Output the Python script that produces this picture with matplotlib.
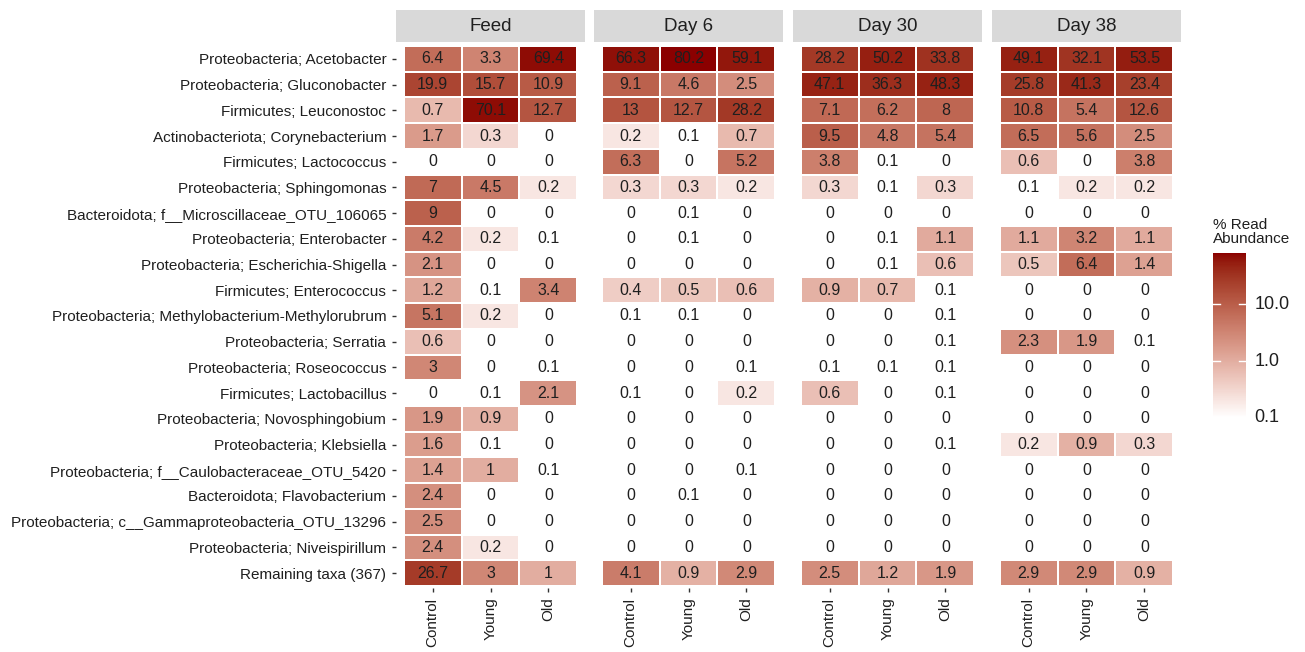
import numpy as np
import matplotlib
matplotlib.use("Agg")
from matplotlib import pyplot as plt
from matplotlib.colors import ListedColormap, LogNorm

plt.rcParams['font.family'] = ['Liberation Sans', 'DejaVu Sans']

taxa = [
    "Proteobacteria; Acetobacter",
    "Proteobacteria; Gluconobacter",
    "Firmicutes; Leuconostoc",
    "Actinobacteriota; Corynebacterium",
    "Firmicutes; Lactococcus",
    "Proteobacteria; Sphingomonas",
    "Bacteroidota; f__Microscillaceae_OTU_106065",
    "Proteobacteria; Enterobacter",
    "Proteobacteria; Escherichia-Shigella",
    "Firmicutes; Enterococcus",
    "Proteobacteria; Methylobacterium-Methylorubrum",
    "Proteobacteria; Serratia",
    "Proteobacteria; Roseococcus",
    "Firmicutes; Lactobacillus",
    "Proteobacteria; Novosphingobium",
    "Proteobacteria; Klebsiella",
    "Proteobacteria; f__Caulobacteraceae_OTU_5420",
    "Bacteroidota; Flavobacterium",
    "Proteobacteria; c__Gammaproteobacteria_OTU_13296",
    "Proteobacteria; Niveispirillum",
    "Remaining taxa (367)",
]
timepoints = ["Feed", "Day 6", "Day 30", "Day 38"]
groups = ["Control", "Young", "Old"]

# % read abundance, one list per timepoint, rows follow `taxa`, columns follow `groups`
feed = [
    [6.4, 3.3, 69.4], [19.9, 15.7, 10.9], [0.7, 70.1, 12.7], [1.7, 0.3, 0],
    [0, 0, 0], [7, 4.5, 0.2], [9, 0, 0], [4.2, 0.2, 0.1], [2.1, 0, 0],
    [1.2, 0.1, 3.4], [5.1, 0.2, 0], [0.6, 0, 0], [3, 0, 0.1], [0, 0.1, 2.1],
    [1.9, 0.9, 0], [1.6, 0.1, 0], [1.4, 1, 0.1], [2.4, 0, 0], [2.5, 0, 0],
    [2.4, 0.2, 0], [26.7, 3, 1],
]
day6 = [
    [66.3, 80.2, 59.1], [9.1, 4.6, 2.5], [13, 12.7, 28.2], [0.2, 0.1, 0.7],
    [6.3, 0, 5.2], [0.3, 0.3, 0.2], [0, 0.1, 0], [0, 0.1, 0], [0, 0, 0],
    [0.4, 0.5, 0.6], [0.1, 0.1, 0], [0, 0, 0], [0, 0, 0.1], [0.1, 0, 0.2],
    [0, 0, 0], [0, 0, 0], [0, 0, 0.1], [0, 0.1, 0], [0, 0, 0], [0, 0, 0],
    [4.1, 0.9, 2.9],
]
day30 = [
    [28.2, 50.2, 33.8], [47.1, 36.3, 48.3], [7.1, 6.2, 8], [9.5, 4.8, 5.4],
    [3.8, 0.1, 0], [0.3, 0.1, 0.3], [0, 0, 0], [0, 0.1, 1.1], [0, 0.1, 0.6],
    [0.9, 0.7, 0.1], [0, 0, 0.1], [0, 0, 0.1], [0.1, 0.1, 0.1], [0.6, 0, 0.1],
    [0, 0, 0], [0, 0, 0.1], [0, 0, 0], [0, 0, 0], [0, 0, 0], [0, 0, 0],
    [2.5, 1.2, 1.9],
]
day38 = [
    [49.1, 32.1, 53.5], [25.8, 41.3, 23.4], [10.8, 5.4, 12.6], [6.5, 5.6, 2.5],
    [0.6, 0, 3.8], [0.1, 0.2, 0.2], [0, 0, 0], [1.1, 3.2, 1.1], [0.5, 6.4, 1.4],
    [0, 0, 0], [0, 0, 0], [2.3, 1.9, 0.1], [0, 0, 0], [0, 0, 0],
    [0, 0, 0], [0.2, 0.9, 0.3], [0, 0, 0], [0, 0, 0], [0, 0, 0], [0, 0, 0],
    [2.9, 2.9, 0.9],
]
panels = [feed, day6, day30, day38]


# white -> darkred, interpolated in CIELAB like ggplot's gradient
def srgb_to_lab(rgb):
    c = np.asarray(rgb, float)
    c = np.where(c > 0.04045, ((c + 0.055) / 1.055) ** 2.4, c / 12.92)
    m = np.array([[0.4124, 0.3576, 0.1805],
                  [0.2126, 0.7152, 0.0722],
                  [0.0193, 0.1192, 0.9505]])
    xyz = m @ c / np.array([0.95047, 1.0, 1.08883])
    f = np.where(xyz > 0.008856, np.cbrt(xyz), 7.787 * xyz + 16 / 116)
    return np.array([116 * f[1] - 16, 500 * (f[0] - f[1]), 200 * (f[1] - f[2])])


def lab_to_srgb(lab):
    L, a, b = lab
    fy = (L + 16) / 116
    fx = fy + a / 500
    fz = fy - b / 200
    f = np.array([fx, fy, fz])
    xyz = np.where(f ** 3 > 0.008856, f ** 3, (f - 16 / 116) / 7.787)
    xyz = xyz * np.array([0.95047, 1.0, 1.08883])
    minv = np.array([[3.2406, -1.5372, -0.4986],
                     [-0.9689, 1.8758, 0.0415],
                     [0.0557, -0.2040, 1.0570]])
    c = minv @ xyz
    c = np.where(c > 0.0031308, 1.055 * np.clip(c, 0, None) ** (1 / 2.4) - 0.055, 12.92 * c)
    return np.clip(c, 0, 1)


lo = srgb_to_lab([1, 1, 1])
hi = srgb_to_lab([0x8B / 255, 0, 0])
ramp = [lab_to_srgb(lo + t * (hi - lo)) for t in np.linspace(0, 1, 256)]
cmap = ListedColormap(ramp)
cmap.set_bad("white")
cmap.set_under("white")
norm = LogNorm(vmin=0.1, vmax=80.2)

W, H = 1305, 652
fig = plt.figure(figsize=(W / 100, H / 100), dpi=100)

txt_col = "#1f1f1f"
panel_x = [396, 594, 793, 992]
panel_w = 189
top, bottom = 44, 588
strip_top, strip_bot = 10, 42
n_rows = len(taxa)

for k, (name, vals) in enumerate(zip(timepoints, panels)):
    data = np.array(vals, float)
    x0 = panel_x[k]
    ax = fig.add_axes([x0 / W, 1 - bottom / H, panel_w / W, (bottom - top) / H])
    masked = np.ma.masked_less(data, 0.1)
    xe = np.arange(len(groups) + 1) - 0.5
    ye = np.arange(n_rows + 1) - 0.5
    ax.pcolormesh(xe, ye, masked, cmap=cmap, norm=norm,
                  edgecolors="white", linewidth=1.3)
    for i in range(n_rows):
        for j in range(len(groups)):
            ax.text(j, i, f"{data[i, j]:g}", ha="center", va="center",
                    fontsize=11.5, color=txt_col)
    ax.set_xlim(-0.63, 2.63)
    ax.set_ylim(n_rows - 0.42, -0.58)
    ax.set_xticks(range(len(groups)))
    ax.set_xticklabels(groups, rotation=90, fontsize=11, color=txt_col)
    ax.tick_params(length=3, width=1, color="#333333", pad=4)
    ax.set_yticks(range(n_rows))
    if k == 0:
        ax.set_yticklabels(taxa, fontsize=11, color=txt_col)
    else:
        ax.set_yticklabels([])
        ax.tick_params(axis="y", length=0)
    for s in ax.spines.values():
        s.set_visible(False)

    # facet strip
    sax = fig.add_axes([x0 / W, 1 - strip_bot / H, panel_w / W, (strip_bot - strip_top) / H])
    sax.set_facecolor("#d9d9d9")
    sax.set_xticks([])
    sax.set_yticks([])
    for s in sax.spines.values():
        s.set_visible(False)
    sax.text(0.5, 0.48, name, ha="center", va="center", fontsize=13.5,
             color=txt_col, transform=sax.transAxes)

# colour bar
cb_x, cb_w, cb_top, cb_bot = 1213, 33, 253, 418
cax = fig.add_axes([cb_x / W, 1 - cb_bot / H, cb_w / W, (cb_bot - cb_top) / H])
grad = np.logspace(np.log10(0.1), np.log10(80.2), 300).reshape(-1, 1)
cax.pcolormesh([0, 1], grad.ravel(), grad[:-1], cmap=cmap, norm=norm, shading="flat")
cax.set_yscale("log")
cax.set_ylim(0.1, 80.2)
cax.set_xlim(0, 1)
cax.set_xticks([])
cax.set_yticks([])
cax.minorticks_off()
for s in cax.spines.values():
    s.set_visible(False)
for v in [1, 10]:
    cax.plot([0, 0.2], [v, v], color="white", lw=1)
    cax.plot([0.8, 1], [v, v], color="white", lw=1)
for v, lab in [(0.1, "0.1"), (1, "1.0"), (10, "10.0")]:
    cax.text(1.25, v, lab, ha="left", va="center", fontsize=13,
             color=txt_col, transform=cax.get_yaxis_transform())
fig.text(cb_x / W, 1 - 246 / H, "% Read\nAbundance", ha="left", va="bottom",
         fontsize=11, color=txt_col, linespacing=1.0)

fig.savefig("out.png", dpi=100, facecolor="white")
